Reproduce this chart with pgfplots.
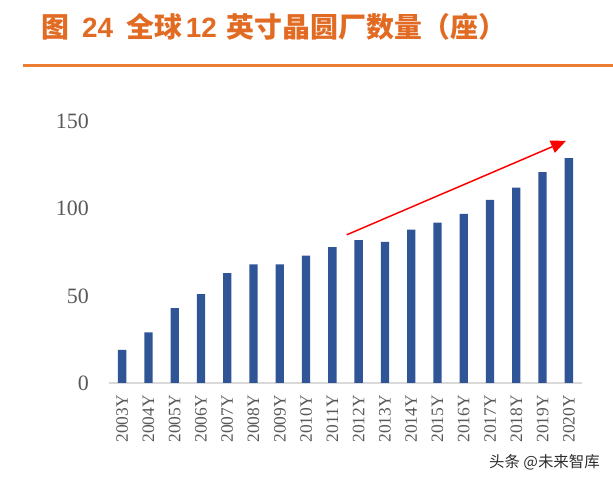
\documentclass[border=0pt]{standalone}
\usepackage{pgfplots}
\pgfplotsset{compat=1.18}
\usepackage{fontspec}
\setmainfont{Liberation Serif}
\newfontfamily\cjk{Noto Sans CJK SC}
\newfontfamily\arial{Liberation Sans}
\usetikzlibrary{arrows.meta}
\definecolor{barblue}{RGB}{47,85,151}
\definecolor{titleorange}{RGB}{226,107,35}
\definecolor{lineorange}{RGB}{237,125,49}
\definecolor{labgray}{RGB}{89,89,89}
\definecolor{axgray}{RGB}{217,217,217}
\definecolor{wmgray}{RGB}{45,45,45}
\begin{document}
\begin{tikzpicture}[x=1bp,y=1bp]
\path[use as bounding box] (0,0) rectangle (613,483);
\fill[lineorange] (23,415.7) rectangle (613,419);
\node[anchor=west, inner sep=0, text=titleorange] at (41,456) {\fontsize{28}{32}\selectfont\bfseries\cjk 图\hspace{13bp}{\arial 24}\hspace{13bp}全球\hspace{4bp}{\arial 12}\hspace{10bp}英寸晶圆厂数量（座）};
\begin{axis}[
  at={(109bp,100bp)}, anchor=south west,
  scale only axis, width=473bp, height=261.5bp,
  xmin=-0.5, xmax=17.5, ymin=0, ymax=150,
  ybar, bar width=8.3bp,
  xtick={0,...,17},
  xticklabels={2003Y,2004Y,2005Y,2006Y,2007Y,2008Y,2009Y,2010Y,2011Y,2012Y,2013Y,2014Y,2015Y,2016Y,2017Y,2018Y,2019Y,2020Y},
  ytick={0,50,100,150},
  axis x line=bottom, axis y line=left,
  y axis line style={draw=none},
  x axis line style={draw=axgray, line width=1.5bp, -},
  major tick length=0pt,
  /pgf/number format/assume math mode=true,
  yticklabel style={font=\fontsize{22}{24}\selectfont, text=labgray, anchor=east, inner sep=0pt, xshift=-20bp},
  xticklabel style={rotate=90, anchor=east, inner sep=0pt, font=\fontsize{17.5}{20}\selectfont, text=labgray},
  xticklabel shift=12bp,
  clip=false,
]
\addplot[fill=barblue, draw=none] coordinates {
(0,19) (1,29) (2,43) (3,51) (4,63) (5,68) (6,68) (7,73) (8,78) (9,82)
(10,81) (11,88) (12,92) (13,97) (14,105) (15,112) (16,121) (17,129)};
\draw[red, line width=1.5bp, -{Triangle[length=15bp,width=13bp]}] (axis cs:8.545,85) -- (axis cs:16.89,138.9);
\end{axis}
\node[anchor=east, inner sep=0, text=wmgray] at (600,21) {\fontsize{15.5}{17}\selectfont\cjk 头条 @未来智库};
\end{tikzpicture}
\end{document}
